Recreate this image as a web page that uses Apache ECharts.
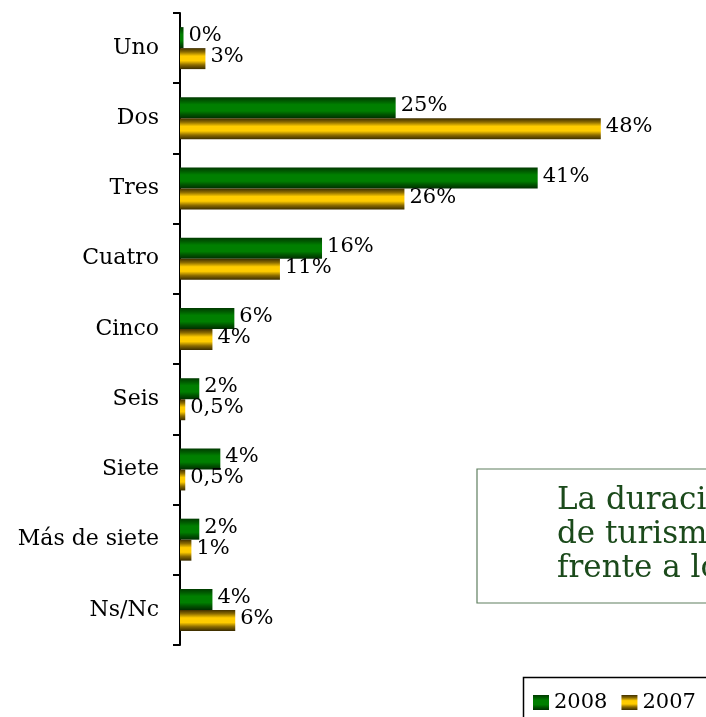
<!DOCTYPE html>
<html>
<head>
<meta charset="utf-8">
<script src="https://cdn.jsdelivr.net/npm/echarts@6/dist/echarts.min.js"></script>
<style>html,body{margin:0;padding:0;background:#fff;}#c{width:706px;height:717px;}</style>
</head>
<body>
<div id="c"></div>
<script>
const categories = ['Uno','Dos','Tres','Cuatro','Cinco','Seis','Siete','Más de siete','Ns/Nc'];
const values2008 = [0.4, 24.6, 40.8, 16.2, 6.2, 2.2, 4.6, 2.2, 3.7];
const values2007 = [2.9, 48, 25.6, 11.4, 3.7, 0.6, 0.6, 1.3, 6.3];
const labels2008 = ['0%','25%','41%','16%','6%','2%','4%','2%','4%'];
const labels2007 = ['3%','48%','26%','11%','4%','0,5%','0,5%','1%','6%'];
const seriesNames = ['2008','2007'];
const noteLines = ['La duración','de turismo','frente a los'];

const FONT = 'DejaVu Serif';
const greenGrad = new echarts.graphic.LinearGradient(0,0,0,1,[
  {offset:0,color:'#003a00'},{offset:0.18,color:'#005c00'},{offset:0.35,color:'#007f00'},
  {offset:0.65,color:'#007f00'},{offset:0.82,color:'#005400'},{offset:1,color:'#002e00'}]);
const goldGrad = new echarts.graphic.LinearGradient(0,0,0,1,[
  {offset:0,color:'#3f2f00'},{offset:0.18,color:'#8a6a00'},{offset:0.38,color:'#ffcc00'},
  {offset:0.6,color:'#ffcc00'},{offset:0.8,color:'#8a6a00'},{offset:1,color:'#3a2c00'}]);

const chart = echarts.init(document.getElementById('c'), null, {renderer:'canvas'});
chart.setOption({
  animation:false,
  backgroundColor:'#fff',
  grid:{left:180, right:0, top:13, bottom:72, containLabel:false},
  xAxis:{type:'value', min:0, max:60, show:false},
  yAxis:{type:'category', data:categories, inverse:true,
    axisLine:{lineStyle:{color:'#000', width:2}},
    axisTick:{show:true, length:7, lineStyle:{color:'#000', width:2}},
    axisLabel:{fontFamily:FONT, fontSize:22, color:'#000', margin:21}},
  legend:{data:seriesNames, left:533, top:692, orient:'horizontal', icon:'rect',
    padding:0, itemWidth:16, itemHeight:15, itemGap:14,
    textStyle:{fontFamily:FONT, fontSize:21, color:'#000'}},
  series:[
    {name:seriesNames[0], type:'bar', data:values2008, barWidth:21, barGap:'0%',
      itemStyle:{color:greenGrad},
      label:{show:true, position:'right', distance:5, fontFamily:FONT, fontSize:21, color:'#000',
        offset:[0,-2], formatter:p=>labels2008[p.dataIndex]}},
    {name:seriesNames[1], type:'bar', data:values2007, barWidth:21, barGap:'0%',
      itemStyle:{color:goldGrad},
      label:{show:true, position:'right', distance:5, fontFamily:FONT, fontSize:21, color:'#000',
        offset:[0,-2], formatter:p=>labels2007[p.dataIndex]}}
  ],
  graphic:[
    {type:'rect', z:-1, shape:{x:477, y:469, width:400, height:134}, style:{fill:'#fff', stroke:'#5f7f5f', lineWidth:1.2}},
    {type:'text', x:557, y:484, style:{text:noteLines.join('\n'), fontFamily:FONT, fontSize:31, lineHeight:34, fill:'#1b4a1b'}},
    {type:'rect', z:-1, shape:{x:523.5, y:677.5, width:300, height:100}, style:{fill:'#fff', stroke:'#000', lineWidth:1.5}}
  ]
});
</script>
</body>
</html>
